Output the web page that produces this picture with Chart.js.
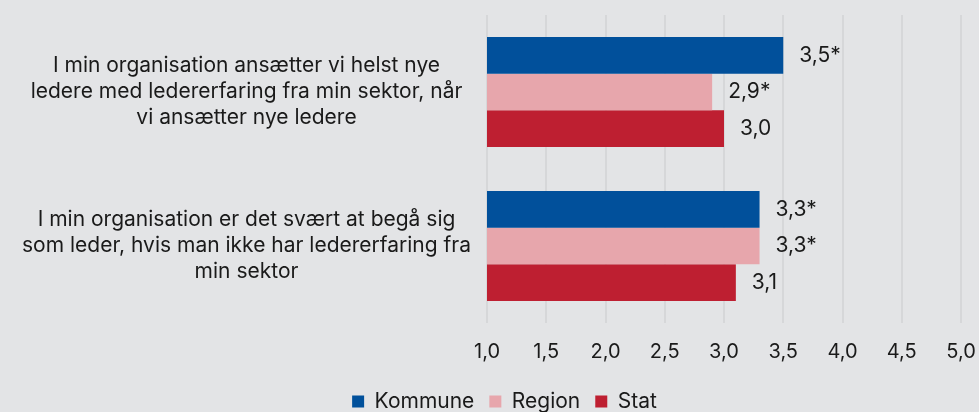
<!DOCTYPE html>
<html lang="da">
<head>
<meta charset="utf-8">
<script src="https://cdn.jsdelivr.net/npm/chart.js@4/dist/chart.umd.min.js"></script>
<style>
  html, body { margin: 0; padding: 0; background: #e3e4e6; }
  #wrap { width: 979px; height: 412px; }
</style>
</head>
<body>
<div id="wrap"><canvas id="chart" width="979" height="412"></canvas></div>
<script>
const categories = [
  ["I min organisation ansætter vi helst nye", "ledere med ledererfaring fra min sektor, når", "vi ansætter nye ledere"],
  ["I min organisation er det svært at begå sig", "som leder, hvis man ikke har ledererfaring fra", "min sektor"],
];
const kommune = [3.5, 3.3];
const region = [2.9, 3.3];
const stat = [3.0, 3.1];
// significance markers shown after the value
const kommuneSig = ["*", "*"];
const regionSig = ["*", "*"];
const statSig = ["", ""];

const fmt = (v) => v.toFixed(1).replace(".", ",");

const valueLabels = {
  id: "valueLabels",
  afterDatasetsDraw(chart) {
    const { ctx } = chart;
    ctx.save();
    ctx.font = "21px Inter";
    ctx.fillStyle = "#1a1a1a";
    ctx.textBaseline = "middle";
    ctx.textAlign = "left";
    chart.data.datasets.forEach((ds, i) => {
      chart.getDatasetMeta(i).data.forEach((bar, j) => {
        ctx.fillText(fmt(ds.data[j]) + ds.sig[j], bar.x + 16, bar.y);
      });
    });
    ctx.restore();
  },
};

// keep the legend strip thin and nudge it right like the original
const legendTweak = {
  id: "legendTweak",
  afterInit(chart) {
    const legend = chart.legend;
    const fit = legend.fit;
    legend.fit = function () {
      fit.call(this);
      this.height = 36;
    };
  },
  afterLayout(chart) {
    chart.legend.left += 24;
    chart.legend.right += 24;
  },
};

new Chart(document.getElementById("chart"), {
  type: "bar",
  data: {
    labels: categories,
    datasets: [
      { label: "Kommune", data: kommune, sig: kommuneSig, backgroundColor: "#01509b" },
      { label: "Region", data: region, sig: regionSig, backgroundColor: "#e7a6ac" },
      { label: "Stat", data: stat, sig: statSig, backgroundColor: "#be1f31" },
    ],
  },
  options: {
    indexAxis: "y",
    responsive: false,
    animation: false,
    maintainAspectRatio: false,
    layout: { padding: { left: 0, right: 18, top: 15, bottom: 0 } },
    datasets: {
      bar: { categoryPercentage: 0.715, barPercentage: 1.0, borderWidth: 0 },
    },
    plugins: {
      legend: {
        position: "bottom",
        labels: {
          boxWidth: 12,
          boxHeight: 12,
          padding: 15,
          color: "#1a1a1a",
          font: { family: "Inter", size: 21 },
        },
      },
      tooltip: { enabled: false },
    },
    scales: {
      x: {
        min: 1,
        max: 5,
        border: { display: false },
        grid: { color: "#d6d7d9", lineWidth: 2, drawTicks: false },
        afterFit: (scale) => {
          scale.height = 53;
          scale.paddingLeft = 0;
          scale.paddingRight = 0;
        },
        ticks: {
          stepSize: 0.5,
          padding: 17,
          color: "#1a1a1a",
          font: { family: "Inter", size: 20 },
          callback: (v) => fmt(v),
        },
      },
      y: {
        border: { display: false },
        grid: { display: false, drawTicks: false },
        afterFit: (scale) => {
          scale.width = 487;
          scale.paddingTop = 0;
          scale.paddingBottom = 0;
        },
        ticks: {
          crossAlign: "center",
          padding: 16,
          color: "#1a1a1a",
          font: { family: "Inter", size: 21, lineHeight: 1.24 },
        },
      },
    },
  },
  plugins: [valueLabels, legendTweak],
});
</script>
</body>
</html>
